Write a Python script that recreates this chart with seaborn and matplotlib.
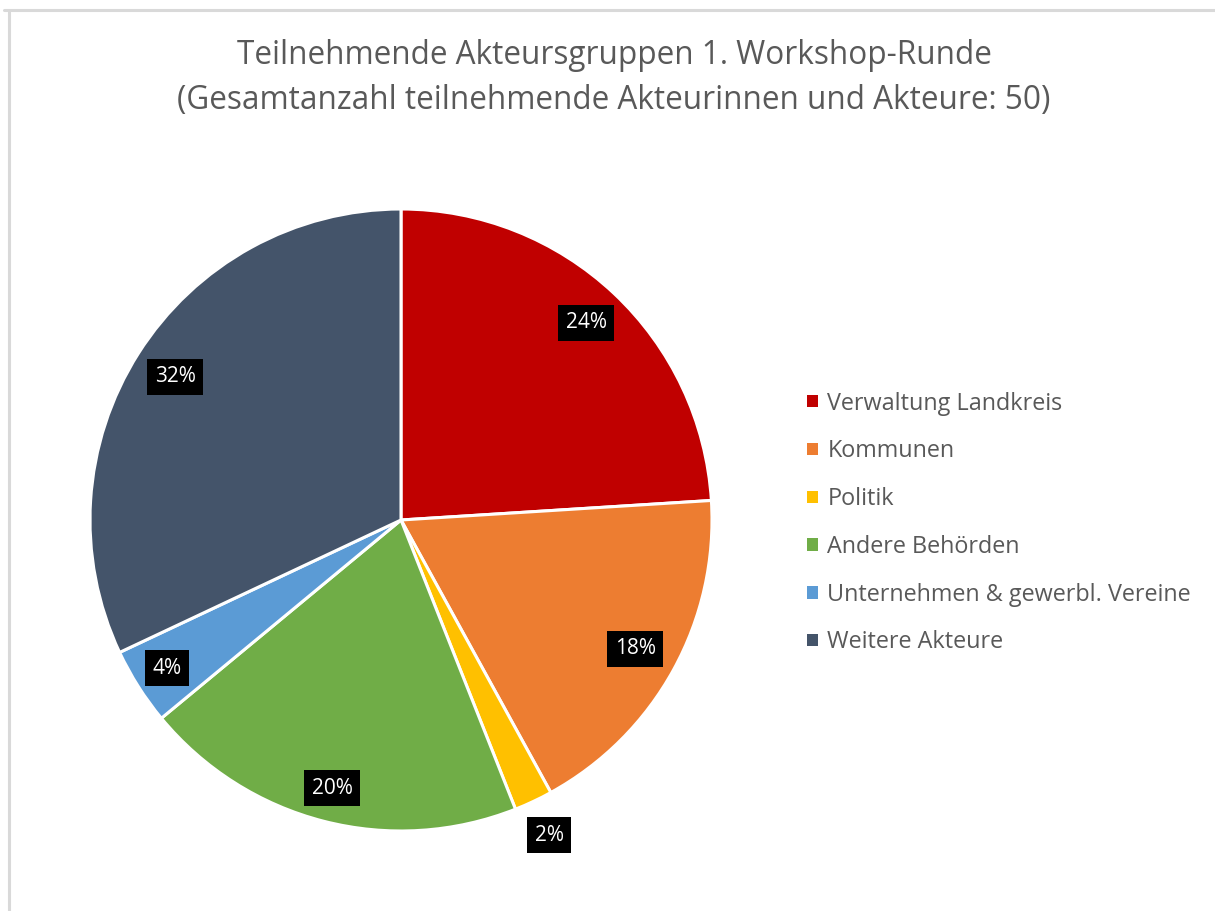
import matplotlib
matplotlib.use("Agg")
import matplotlib.pyplot as plt
from matplotlib.lines import Line2D
import numpy as np
import seaborn as sns

sns.set_theme(style="white")
plt.rcParams["font.family"] = ["Open Sans", "DejaVu Sans"]

# Participant groups (share of 50 participants, in percent)
categories = [
    "Verwaltung Landkreis",
    "Kommunen",
    "Politik",
    "Andere Behörden",
    "Unternehmen & gewerbl. Vereine",
    "Weitere Akteure",
]
shares = [24, 18, 2, 20, 4, 32]
label_radius = [0.87, 0.86, 1.12, 0.89, 0.89, 0.86]
colors = ["#C00000", "#ED7D31", "#FFC000", "#70AD47", "#5B9BD5", "#44546A"]

title_lines = [
    "Teilnehmende Akteursgruppen 1. Workshop-Runde",
    "(Gesamtanzahl teilnehmende Akteurinnen und Akteure: 50)",
]
text_grey = "#595959"

W, H = 1215, 911
fig = plt.figure(figsize=(W / 100, H / 100), dpi=100)
fig.patch.set_facecolor("white")

# frame lines along the top and left edge
fig.add_artist(Line2D([4 / W, 1.0], [1 - 10 / H, 1 - 10 / H], color="#D9D9D9", lw=2.2))
fig.add_artist(Line2D([9 / W, 9 / W], [0, 1 - 10 / H], color="#D9D9D9", lw=2.2))

cx, cy, R = 401, 520, 311
ax = fig.add_axes([(cx - R) / W, (H - cy - R) / H, 2 * R / W, 2 * R / H])
wedges, texts, autotexts = ax.pie(
    shares,
    colors=colors,
    startangle=90,
    counterclock=False,
    radius=1.0,
    wedgeprops=dict(edgecolor="white", linewidth=2.2),
    autopct=lambda p: f"{p:.0f}%",
    pctdistance=0.87,
    textprops=dict(color="white", fontsize=15),
)
for t, r, w in zip(autotexts, label_radius, wedges):
    ang = np.deg2rad((w.theta1 + w.theta2) / 2)
    t.set_position((r * np.cos(ang), r * np.sin(ang)))
    t.set_bbox(dict(facecolor="black", edgecolor="none", boxstyle="square,pad=0.36"))
    t.set_clip_on(False)
ax.set_xlim(-1, 1)
ax.set_ylim(-1, 1)
ax.set_aspect("equal")
ax.axis("off")

for i, line in enumerate(title_lines):
    fig.text(614 / W, 1 - (55 + 45 * i) / H, line, ha="center", va="center",
             fontsize=22.7, color=text_grey)

leg = ax.legend(
    wedges, categories,
    loc="center left",
    bbox_to_anchor=(807 / W, 1 - 523 / H),
    bbox_transform=fig.transFigure,
    frameon=False,
    fontsize=16.8,
    borderpad=0,
    borderaxespad=0,
    handlelength=0.45,
    handleheight=0.45,
    handletextpad=0.42,
    labelspacing=1.02,
)
for t in leg.get_texts():
    t.set_color(text_grey)
for h in leg.legend_handles:
    h.set_edgecolor("none")

fig.savefig("out.png", dpi=100, facecolor="white")
